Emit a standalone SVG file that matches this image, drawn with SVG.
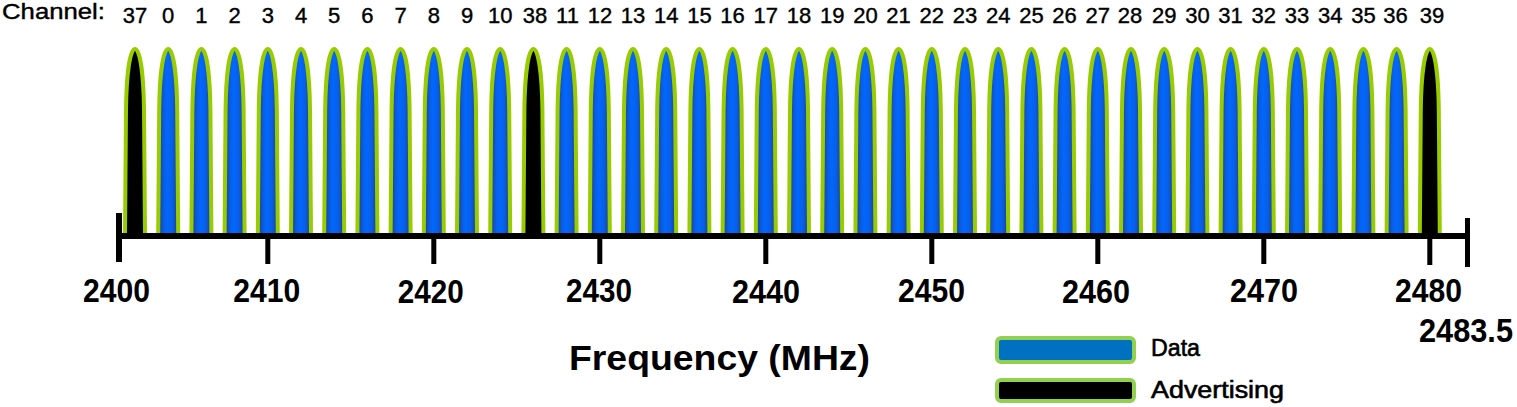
<svg xmlns="http://www.w3.org/2000/svg" xmlns:xlink="http://www.w3.org/1999/xlink" width="1517" height="407" viewBox="0 0 1517 407">
<defs>
<linearGradient id="blueg" x1="0" y1="0" x2="1" y2="0">
<stop offset="0" stop-color="#1c3f86"/>
<stop offset="0.3" stop-color="#0a5ee6"/>
<stop offset="0.45" stop-color="#0068ff"/>
<stop offset="0.7" stop-color="#0a5ee6"/>
<stop offset="1" stop-color="#1c3f86"/>
</linearGradient>
<path id="lobe" d="M -10,186 L -9,60 C -8.5,25 -5,0 0,0 C 5,0 8.5,25 9,60 L 10,186"/>
<style>
.data{fill:url(#blueg);stroke:#99cc00;stroke-width:4}
.adv{fill:#000;stroke:#99cc00;stroke-width:4}
.ch{font-family:"Liberation Sans",Arial,sans-serif;font-size:22px;fill:#000;stroke:#000;stroke-width:0.4;text-anchor:middle}
.tick{font-family:"Liberation Sans",Arial,sans-serif;font-size:33px;font-weight:bold;fill:#000;text-anchor:middle}
.leg{font-family:"Liberation Sans",Arial,sans-serif;font-size:23px;fill:#000;stroke:#000;stroke-width:0.6}
</style>
</defs>
<rect width="1517" height="407" fill="#fff"/>
<text class="ch" x="2" y="19" style="text-anchor:start" textLength="103" lengthAdjust="spacingAndGlyphs">Channel:</text>
<g id="channels">
<g id="ch37"><use xlink:href="#lobe" href="#lobe" class="adv" x="135" y="49"/><text class="ch" x="135" y="23">37</text></g>
<g id="ch0"><use xlink:href="#lobe" href="#lobe" class="data" x="168.2" y="49"/><text class="ch" x="168.2" y="23">0</text></g>
<g id="ch1"><use xlink:href="#lobe" href="#lobe" class="data" x="201.4" y="49"/><text class="ch" x="201.4" y="23">1</text></g>
<g id="ch2"><use xlink:href="#lobe" href="#lobe" class="data" x="234.6" y="49"/><text class="ch" x="234.6" y="23">2</text></g>
<g id="ch3"><use xlink:href="#lobe" href="#lobe" class="data" x="267.8" y="49"/><text class="ch" x="267.8" y="23">3</text></g>
<g id="ch4"><use xlink:href="#lobe" href="#lobe" class="data" x="301" y="49"/><text class="ch" x="301" y="23">4</text></g>
<g id="ch5"><use xlink:href="#lobe" href="#lobe" class="data" x="334.2" y="49"/><text class="ch" x="334.2" y="23">5</text></g>
<g id="ch6"><use xlink:href="#lobe" href="#lobe" class="data" x="367.4" y="49"/><text class="ch" x="367.4" y="23">6</text></g>
<g id="ch7"><use xlink:href="#lobe" href="#lobe" class="data" x="400.6" y="49"/><text class="ch" x="400.6" y="23">7</text></g>
<g id="ch8"><use xlink:href="#lobe" href="#lobe" class="data" x="433.8" y="49"/><text class="ch" x="433.8" y="23">8</text></g>
<g id="ch9"><use xlink:href="#lobe" href="#lobe" class="data" x="467" y="49"/><text class="ch" x="467" y="23">9</text></g>
<g id="ch10"><use xlink:href="#lobe" href="#lobe" class="data" x="500.2" y="49"/><text class="ch" x="500.2" y="23">10</text></g>
<g id="ch38"><use xlink:href="#lobe" href="#lobe" class="adv" x="533.4" y="49"/><text class="ch" x="535" y="23">38</text></g>
<g id="ch11"><use xlink:href="#lobe" href="#lobe" class="data" x="566.6" y="49"/><text class="ch" x="567.5" y="23">11</text></g>
<g id="ch12"><use xlink:href="#lobe" href="#lobe" class="data" x="599.8" y="49"/><text class="ch" x="600" y="23">12</text></g>
<g id="ch13"><use xlink:href="#lobe" href="#lobe" class="data" x="633" y="49"/><text class="ch" x="633" y="23">13</text></g>
<g id="ch14"><use xlink:href="#lobe" href="#lobe" class="data" x="666.2" y="49"/><text class="ch" x="666.2" y="23">14</text></g>
<g id="ch15"><use xlink:href="#lobe" href="#lobe" class="data" x="699.4" y="49"/><text class="ch" x="699.4" y="23">15</text></g>
<g id="ch16"><use xlink:href="#lobe" href="#lobe" class="data" x="732.6" y="49"/><text class="ch" x="732.6" y="23">16</text></g>
<g id="ch17"><use xlink:href="#lobe" href="#lobe" class="data" x="765.8" y="49"/><text class="ch" x="765.8" y="23">17</text></g>
<g id="ch18"><use xlink:href="#lobe" href="#lobe" class="data" x="799" y="49"/><text class="ch" x="799" y="23">18</text></g>
<g id="ch19"><use xlink:href="#lobe" href="#lobe" class="data" x="832.2" y="49"/><text class="ch" x="832.2" y="23">19</text></g>
<g id="ch20"><use xlink:href="#lobe" href="#lobe" class="data" x="865.4" y="49"/><text class="ch" x="865.4" y="23">20</text></g>
<g id="ch21"><use xlink:href="#lobe" href="#lobe" class="data" x="898.6" y="49"/><text class="ch" x="898.6" y="23">21</text></g>
<g id="ch22"><use xlink:href="#lobe" href="#lobe" class="data" x="931.8" y="49"/><text class="ch" x="931.8" y="23">22</text></g>
<g id="ch23"><use xlink:href="#lobe" href="#lobe" class="data" x="965" y="49"/><text class="ch" x="965" y="23">23</text></g>
<g id="ch24"><use xlink:href="#lobe" href="#lobe" class="data" x="998.2" y="49"/><text class="ch" x="998.2" y="23">24</text></g>
<g id="ch25"><use xlink:href="#lobe" href="#lobe" class="data" x="1031.4" y="49"/><text class="ch" x="1031.4" y="23">25</text></g>
<g id="ch26"><use xlink:href="#lobe" href="#lobe" class="data" x="1064.6" y="49"/><text class="ch" x="1064.6" y="23">26</text></g>
<g id="ch27"><use xlink:href="#lobe" href="#lobe" class="data" x="1097.8" y="49"/><text class="ch" x="1097.8" y="23">27</text></g>
<g id="ch28"><use xlink:href="#lobe" href="#lobe" class="data" x="1131" y="49"/><text class="ch" x="1130" y="23">28</text></g>
<g id="ch29"><use xlink:href="#lobe" href="#lobe" class="data" x="1164.2" y="49"/><text class="ch" x="1164.2" y="23">29</text></g>
<g id="ch30"><use xlink:href="#lobe" href="#lobe" class="data" x="1197.4" y="49"/><text class="ch" x="1197.4" y="23">30</text></g>
<g id="ch31"><use xlink:href="#lobe" href="#lobe" class="data" x="1230.6" y="49"/><text class="ch" x="1230.6" y="23">31</text></g>
<g id="ch32"><use xlink:href="#lobe" href="#lobe" class="data" x="1263.8" y="49"/><text class="ch" x="1263.8" y="23">32</text></g>
<g id="ch33"><use xlink:href="#lobe" href="#lobe" class="data" x="1297" y="49"/><text class="ch" x="1297" y="23">33</text></g>
<g id="ch34"><use xlink:href="#lobe" href="#lobe" class="data" x="1330.2" y="49"/><text class="ch" x="1330.2" y="23">34</text></g>
<g id="ch35"><use xlink:href="#lobe" href="#lobe" class="data" x="1363.4" y="49"/><text class="ch" x="1363.4" y="23">35</text></g>
<g id="ch36"><use xlink:href="#lobe" href="#lobe" class="data" x="1396.6" y="49"/><text class="ch" x="1395.5" y="23">36</text></g>
<g id="ch39"><use xlink:href="#lobe" href="#lobe" class="adv" x="1429.8" y="49"/><text class="ch" x="1432" y="23">39</text></g>
</g>
<g id="axis" fill="#000">
<rect x="117" y="233" width="1353" height="6"/>
<rect x="116" y="213" width="6" height="49"/>
<rect x="1465" y="218" width="5" height="49"/>
<rect x="265.3" y="236" width="5" height="28"/>
<rect x="431.3" y="236" width="5" height="28"/>
<rect x="597.3" y="236" width="5" height="28"/>
<rect x="763.3" y="236" width="5" height="28"/>
<rect x="929.3" y="236" width="5" height="28"/>
<rect x="1095.3" y="236" width="5" height="28"/>
<rect x="1261.3" y="236" width="5" height="28"/>
<rect x="1427.3" y="236" width="5" height="29"/>
</g>
<g id="tick-labels">
<text class="tick" x="116.5" y="302" textLength="67" lengthAdjust="spacingAndGlyphs">2400</text>
<text class="tick" x="266.7" y="302" textLength="67" lengthAdjust="spacingAndGlyphs">2410</text>
<text class="tick" x="430.8" y="303" textLength="66" lengthAdjust="spacingAndGlyphs">2420</text>
<text class="tick" x="599" y="302" textLength="66" lengthAdjust="spacingAndGlyphs">2430</text>
<text class="tick" x="766" y="303" textLength="68" lengthAdjust="spacingAndGlyphs">2440</text>
<text class="tick" x="931.5" y="302" textLength="67" lengthAdjust="spacingAndGlyphs">2450</text>
<text class="tick" x="1096" y="303" textLength="68" lengthAdjust="spacingAndGlyphs">2460</text>
<text class="tick" x="1264" y="302" textLength="68" lengthAdjust="spacingAndGlyphs">2470</text>
<text class="tick" x="1428.5" y="302" textLength="67" lengthAdjust="spacingAndGlyphs">2480</text>
<text class="tick" x="1466" y="342" textLength="94" lengthAdjust="spacingAndGlyphs">2483.5</text>
</g>
<text id="xlabel" x="569" y="370" font-family="Liberation Sans, Arial, sans-serif" font-size="35" font-weight="bold" fill="#000" textLength="301" lengthAdjust="spacingAndGlyphs">Frequency (MHz)</text>
<g id="legend-data">
<rect x="997" y="338" width="137" height="24" rx="4" fill="#0070c0" stroke="#92d050" stroke-width="4"/>
<text class="leg" x="1151" y="356" textLength="49" lengthAdjust="spacingAndGlyphs">Data</text>
</g>
<g id="legend-adv">
<rect x="997" y="380" width="137" height="21" rx="4" fill="#000" stroke="#92d050" stroke-width="4"/>
<text class="leg" x="1151" y="398" textLength="133" lengthAdjust="spacingAndGlyphs">Advertising</text>
</g>
</svg>
